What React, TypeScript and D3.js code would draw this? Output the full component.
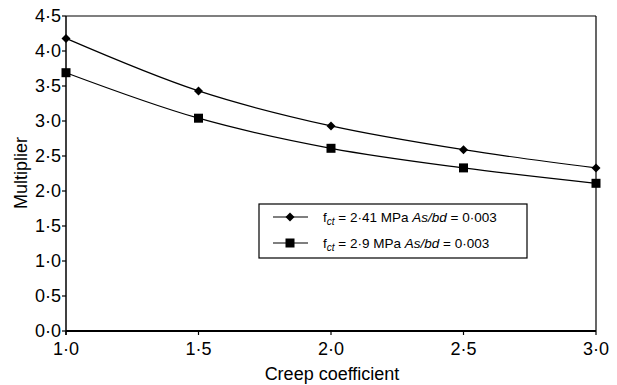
import React from "react";
import * as d3 from "d3";

const creep = [1.0, 1.5, 2.0, 2.5, 3.0];
const series241 = [4.18, 3.43, 2.93, 2.59, 2.33];
const series29 = [3.69, 3.04, 2.61, 2.33, 2.11];
const yTicks = [0, 0.5, 1, 1.5, 2, 2.5, 3, 3.5, 4, 4.5];
const xTicks = [1.0, 1.5, 2.0, 2.5, 3.0];

const fmt = (v: number) => v.toFixed(1).replace(".", "\u00B7");

export default function App() {
  const W = 617, H = 385;
  const L = 66, R = 596, T = 16, B = 331;
  const x = d3.scaleLinear().domain([1, 3]).range([L, R]);
  const y = d3.scaleLinear().domain([0, 4.5]).range([B, T]);
  const line = d3
    .line<number>()
    .x((_, i) => x(creep[i]))
    .y((d) => y(d))
    .curve(d3.curveCatmullRom.alpha(0.5));
  const font = "Liberation Sans, Arial, sans-serif";
  const diamond = (cx: number, cy: number, r = 4.5) =>
    `M${cx},${cy - r}L${cx + r},${cy}L${cx},${cy + r}L${cx - r},${cy}Z`;
  const sq = 9;
  const axFs = 18;
  const lgFs = 13.5;
  return (
    <svg
      width={W}
      height={H}
      style={{ position: "absolute", left: 0, top: 0, background: "#fff" }}
      fontFamily={font}
    >
      <rect x={0} y={0} width={W} height={H} fill="#fff" />
      {/* frame */}
      <line x1={L} y1={T} x2={R} y2={T} stroke="#000" strokeWidth={1.2} />
      <line x1={R} y1={T} x2={R} y2={B} stroke="#000" strokeWidth={1.2} />
      <line x1={L} y1={T} x2={L} y2={B + 4} stroke="#000" strokeWidth={1.5} />
      <line x1={L} y1={B} x2={R} y2={B} stroke="#000" strokeWidth={2} />
      {yTicks.map((t) => (
        <g key={"y" + t}>
          <line x1={L - 4} x2={L} y1={y(t)} y2={y(t)} stroke="#000" strokeWidth={1.2} />
          <text x={L - 5} y={y(t)} dy="0.36em" textAnchor="end" fontSize={axFs} fill="#000">
            {fmt(t)}
          </text>
        </g>
      ))}
      {xTicks.map((t) => (
        <g key={"x" + t}>
          <line x1={x(t)} x2={x(t)} y1={B} y2={B + 4} stroke="#000" strokeWidth={1.2} />
          <text x={x(t)} y={B + 24} textAnchor="middle" fontSize={axFs} fill="#000">
            {fmt(t)}
          </text>
        </g>
      ))}
      <text x={332} y={380} textAnchor="middle" fontSize={axFs} fill="#000">
        Creep coefficient
      </text>
      <text
        transform={`translate(27,173) rotate(-90)`}
        textAnchor="middle"
        fontSize={axFs}
        fill="#000"
      >
        Multiplier
      </text>
      {/* series */}
      <path d={line(series241) || ""} fill="none" stroke="#000" strokeWidth={1.2} />
      <path d={line(series29) || ""} fill="none" stroke="#000" strokeWidth={1.2} />
      {series241.map((v, i) => (
        <path key={"d" + i} d={diamond(x(creep[i]), y(v))} fill="#000" />
      ))}
      {series29.map((v, i) => (
        <rect key={"s" + i} x={x(creep[i]) - sq / 2} y={y(v) - sq / 2} width={sq} height={sq} fill="#000" />
      ))}
      {/* legend */}
      <rect x={259} y={204} width={268} height={54} fill="#fff" stroke="#000" strokeWidth={1.2} />
      <line x1={273} x2={308} y1={217} y2={217} stroke="#000" strokeWidth={1.2} />
      <path d={diamond(290, 217)} fill="#000" />
      <line x1={273} x2={308} y1={243} y2={243} stroke="#000" strokeWidth={1.2} />
      <rect x={290 - sq / 2} y={243 - sq / 2} width={sq} height={sq} fill="#000" />
      <text x={323} y={222} fontSize={lgFs} fill="#000">
        f<tspan fontStyle="italic" fontSize={10} dy={3}>ct</tspan>
        <tspan dy={-3}> = 2·41 MPa </tspan>
        <tspan fontStyle="italic">As/bd</tspan>
        <tspan> = 0·003</tspan>
      </text>
      <text x={323} y={248} fontSize={lgFs} fill="#000">
        f<tspan fontStyle="italic" fontSize={10} dy={3}>ct</tspan>
        <tspan dy={-3}> = 2·9 MPa </tspan>
        <tspan fontStyle="italic">As/bd</tspan>
        <tspan> = 0·003</tspan>
      </text>
    </svg>
  );
}
